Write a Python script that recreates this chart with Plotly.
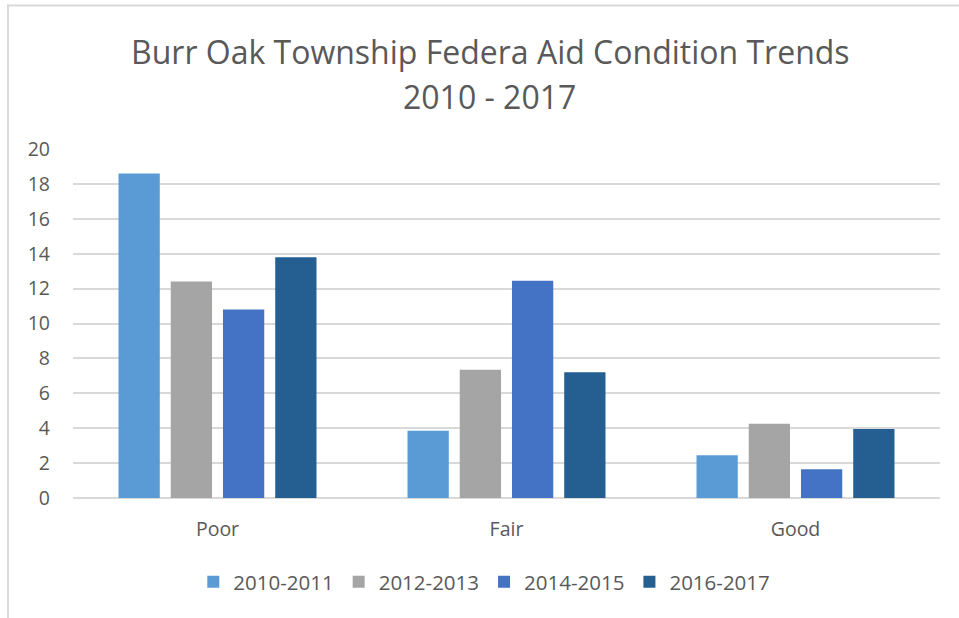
import plotly.graph_objects as go

categories = ["Poor", "Fair", "Good"]
series_names = ["2010-2011", "2012-2013", "2014-2015", "2016-2017"]
v_2010_2011 = [18.6, 3.85, 2.45]
v_2012_2013 = [12.4, 7.35, 4.25]
v_2014_2015 = [10.8, 12.45, 1.65]
v_2016_2017 = [13.8, 7.2, 3.95]
colors = ["#5B9BD5", "#A5A5A5", "#4472C4", "#255E91"]
y_ticks = [0, 2, 4, 6, 8, 10, 12, 14, 16, 18, 20]
title_line1 = "Burr Oak Township Federa Aid Condition Trends"
title_line2 = "2010 - 2017"

W, H = 959, 618
L, R, T, B = 73, 19, 149, 120

fig = go.Figure()
for name, vals, c in zip(series_names, [v_2010_2011, v_2012_2013, v_2014_2015, v_2016_2017], colors):
    fig.add_trace(go.Bar(x=categories, y=vals, name=name, marker=dict(color=c, line=dict(width=0))))

pw = W - L - R
ph = H - T - B
def px_x(p):
    return (p - L) / pw
def px_y(p):
    return (H - B - p) / ph

FONT = "'Open Sans', sans-serif"
fig.update_layout(
    width=W, height=H,
    margin=dict(l=L, r=R, t=T, b=B),
    paper_bgcolor="white", plot_bgcolor="white",
    barmode="group", bargap=0.277, bargroupgap=0.21,
    font=dict(family=FONT, color="#595959", size=19),
    xaxis=dict(showgrid=False, showline=False, ticks="", tickfont=dict(size=19.5), ticklabelstandoff=17),
    yaxis=dict(range=[0, 20], tickvals=y_ticks, showgrid=True, gridcolor="#D9D9D9", gridwidth=1.5,
               zeroline=True, zerolinecolor="#D9D9D9", zerolinewidth=1.5, showline=False, ticks="",
               tickfont=dict(size=19.5), ticklabelstandoff=22),
    legend=dict(orientation="h", x=0.505, xanchor="center", xref="container", y=1 - 582 / H, yanchor="middle",
                yref="container", font=dict(size=20.5), itemwidth=30, traceorder="normal"),
    showlegend=True,
    annotations=[
        dict(text=title_line1, xref="paper", yref="paper", x=px_x(490), y=px_y(52), xanchor="center",
             yanchor="middle", showarrow=False, font=dict(size=32, color="#595959")),
        dict(text=title_line2, xref="paper", yref="paper", x=px_x(489), y=px_y(96), xanchor="center",
             yanchor="middle", showarrow=False, font=dict(size=32, color="#595959")),
    ],
    shapes=[
        dict(type="line", xref="paper", yref="paper", x0=px_x(8), x1=px_x(8), y0=px_y(4.5), y1=px_y(620),
             line=dict(color="#D9D9D9", width=2)),
        dict(type="line", xref="paper", yref="paper", x0=px_x(7), x1=px_x(962), y0=px_y(5.5), y1=px_y(5.5),
             line=dict(color="#D9D9D9", width=2)),
    ],
)
fig.write_html("out.html", config={"displayModeBar": False},
               post_script="document.body.style.margin='0';document.body.style.overflow='hidden';")
